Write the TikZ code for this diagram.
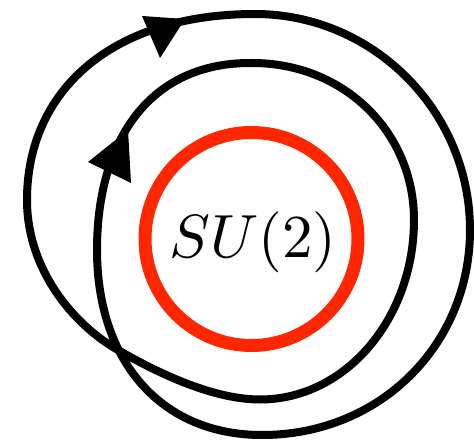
\documentclass[tikz,border=0pt]{standalone}
\definecolor{sured}{RGB}{255,38,0}
\tikzset{
  loopline/.style={draw=black, line width=8pt, line join=round},
  ringline/.style={draw=sured, line width=13pt},
  arrowhead/.style={fill=black}
}
\begin{document}
\begin{tikzpicture}[x=1pt,y=-1pt]
\useasboundingbox (0,0) rectangle (474,441);
% red ring
\node[circle, minimum size=213pt, inner sep=0pt, ringline] (ring) at (251.5,239) {};
\node[inner sep=0pt, scale=6.1] (label) at (253,242.5) {$SU(2)$};
% double loop
\draw[loopline] (255,14)
  .. controls (373,14) and (470,111) .. (470,230)
  .. controls (470,345) and (380,435) .. (262,435)
  .. controls (160,435) and (97,360) .. (97,250)
  .. controls (97,140) and (150,62) .. (252,63)
  .. controls (345,63) and (414,133) .. (414,220)
  .. controls (414,318) and (346,399.5) .. (260,399.5)
  .. controls (215,399.5) and (161,375) .. (118,350)
  .. controls (74,325) and (27,270) .. (27,200)
  .. controls (27,92) and (110,14) .. cycle;
% arrowheads
\fill[arrowhead] (142,16) -- (185,19) -- (160,58) -- cycle;
\fill[arrowhead] (88,162) -- (128,130) -- (131,183) -- cycle;
\end{tikzpicture}
\end{document}
